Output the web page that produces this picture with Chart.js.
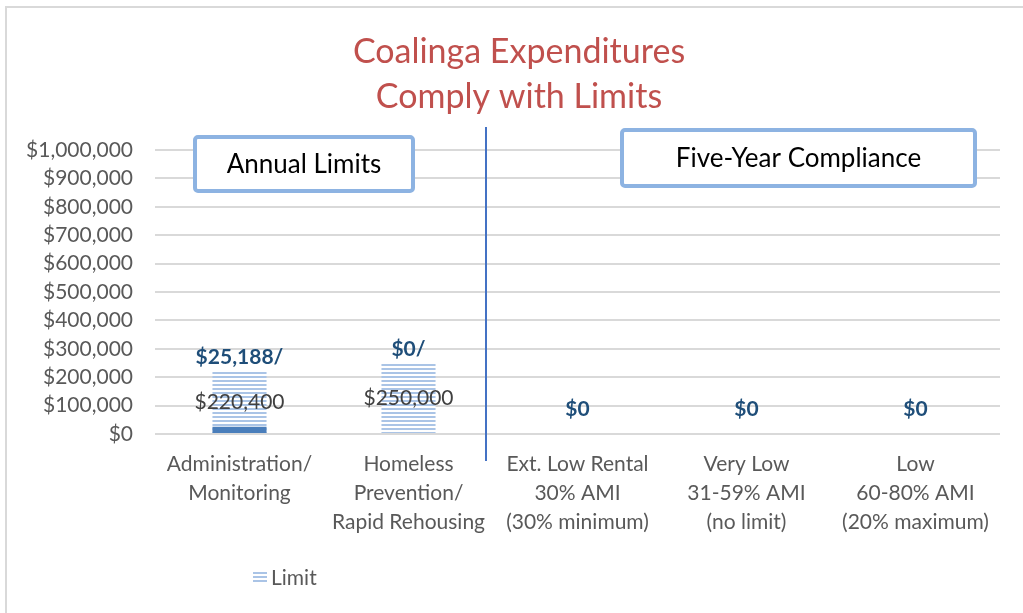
<!DOCTYPE html>
<html>
<head>
<meta charset="utf-8">
<script src="https://cdn.jsdelivr.net/npm/chart.js@4.4.1/dist/chart.umd.min.js"></script>
<style>
  html, body { margin: 0; padding: 0; background: #fff; }
  #wrap { width: 1023px; height: 613px; position: relative; }
</style>
</head>
<body>
<div id="wrap"><canvas id="compChart" width="1023" height="613"></canvas></div>
<script>
// chart data
const categories = [
    ['Administration/', 'Monitoring'],
    ['Homeless', 'Prevention/', 'Rapid Rehousing'],
    ['Ext. Low Rental', '30% AMI', '(30% minimum)'],
    ['Very Low', '31-59% AMI', '(no limit)'],
    ['Low', '60-80% AMI', '(20% maximum)']
];
const expenditures = [25188, 0, 0, 0, 0];
const limits = [220400, 250000, null, null, null];
const titleLines = ['Coalinga Expenditures', 'Comply with Limits'];
const yMin = 0;
const yMax = 1000000;
const yStep = 100000;

const FONT = 'Lato, "Open Sans", sans-serif';

function money(v) {
    return '$' + Number(v).toLocaleString('en-US');
}

// horizontal-line fill for the Limit bars
function makeStripes() {
    const c = document.createElement('canvas');
    c.width = 8; c.height = 4;
    const g = c.getContext('2d');
    g.fillStyle = '#ffffff';
    g.fillRect(0, 0, 8, 4);
    g.fillStyle = '#aac4e6';
    g.fillRect(0, 0, 8, 2);
    return g.createPattern(c, 'repeat');
}
const stripes = makeStripes();

// extra drawing: title, boxes, divider, value labels, legend
const decorPlugin = {
    id: 'decor',
    beforeDraw(chart) {
        const ctx = chart.ctx;
        ctx.save();
        ctx.strokeStyle = '#d9d9d9';
        ctx.lineWidth = 2;
        ctx.strokeRect(6, 7, 1040, 640);
        ctx.restore();
    },
    afterDatasetsDraw(chart) {
        const ctx = chart.ctx;
        const y = chart.scales.y;
        const expMeta = chart.getDatasetMeta(0);
        const limMeta = chart.getDatasetMeta(1);

        ctx.save();
        ctx.textAlign = 'center';
        ctx.textBaseline = 'middle';

        // limit labels + expenditure labels
        expenditures.forEach((v, i) => {
            const bx = expMeta.data[i].x;
            if (limits[i] != null) {
                const top = limMeta.data[i].y;
                const base = y.getPixelForValue(0);
                ctx.font = '21px ' + FONT;
                ctx.fillStyle = '#404040';
                ctx.fillText(money(limits[i]), bx, (top + base) / 2);
                ctx.font = 'bold 21px ' + FONT;
                ctx.fillStyle = '#1f4e79';
                ctx.fillText(money(v) + '/', bx, top - 14);
            } else {
                ctx.font = 'bold 21px ' + FONT;
                ctx.fillStyle = '#1f4e79';
                ctx.fillText(money(v), bx, y.getPixelForValue(0) - 25);
            }
        });

        // divider between annual and five-year groups
        ctx.strokeStyle = '#4472c4';
        ctx.lineWidth = 2;
        ctx.beginPath();
        ctx.moveTo(486, 127);
        ctx.lineTo(486, 461);
        ctx.stroke();

        // section boxes
        const boxes = [
            { text: 'Annual Limits', x: 195, y: 137, w: 218, h: 54 },
            { text: 'Five-Year Compliance', x: 622, y: 130, w: 353, h: 56 }
        ];
        boxes.forEach(b => {
            ctx.fillStyle = '#ffffff';
            ctx.strokeStyle = '#8db3e2';
            ctx.lineWidth = 4;
            ctx.beginPath();
            ctx.roundRect(b.x, b.y, b.w, b.h, 3);
            ctx.fill();
            ctx.stroke();
            ctx.fillStyle = '#000000';
            ctx.font = '26px ' + FONT;
            ctx.fillText(b.text, b.x + b.w / 2, b.y + b.h / 2 + 1);
        });

        // title
        ctx.fillStyle = '#c0504d';
        ctx.font = '34px ' + FONT;
        ctx.fillText(titleLines[0], 519, 52);
        ctx.fillText(titleLines[1], 519, 97);

        // legend (Limit only)
        ctx.fillStyle = stripes;
        ctx.fillRect(253, 571, 14, 12);
        ctx.fillStyle = '#595959';
        ctx.font = '21px ' + FONT;
        ctx.textAlign = 'left';
        ctx.fillText(chart.data.datasets[1].label, 271, 578);
        ctx.restore();
    }
};

new Chart(document.getElementById('compChart'), {
    type: 'bar',
    data: {
        labels: categories,
        datasets: [
            {
                label: 'Expenditures',
                data: expenditures,
                backgroundColor: '#4a7ebb',
                grouped: false,
                categoryPercentage: 1,
                barPercentage: 0.32
            },
            {
                label: 'Limit',
                data: limits,
                backgroundColor: stripes,
                grouped: false,
                categoryPercentage: 1,
                barPercentage: 0.32
            }
        ]
    },
    options: {
        responsive: false,
        animation: false,
        layout: { padding: { left: 0, right: 23, top: 150, bottom: 0 } },
        plugins: {
            legend: { display: false },
            title: { display: false },
            tooltip: { enabled: false }
        },
        scales: {
            x: {
                grid: { display: false, drawTicks: false },
                border: { display: false },
                ticks: {
                    color: '#595959',
                    font: { family: FONT, size: 21, lineHeight: 1.38 },
                    padding: 16,
                    maxRotation: 0,
                    autoSkip: false
                },
                afterFit(scale) { scale.height = 179; }
            },
            y: {
                min: yMin,
                max: yMax,
                grid: { color: '#d9d9d9', lineWidth: 2, drawTicks: false },
                border: { display: false },
                ticks: {
                    stepSize: yStep,
                    color: '#595959',
                    font: { family: FONT, size: 21 },
                    padding: 22,
                    callback: v => money(v)
                },
                afterFit(scale) { scale.width = 155; }
            }
        }
    },
    plugins: [decorPlugin]
});
</script>
</body>
</html>
